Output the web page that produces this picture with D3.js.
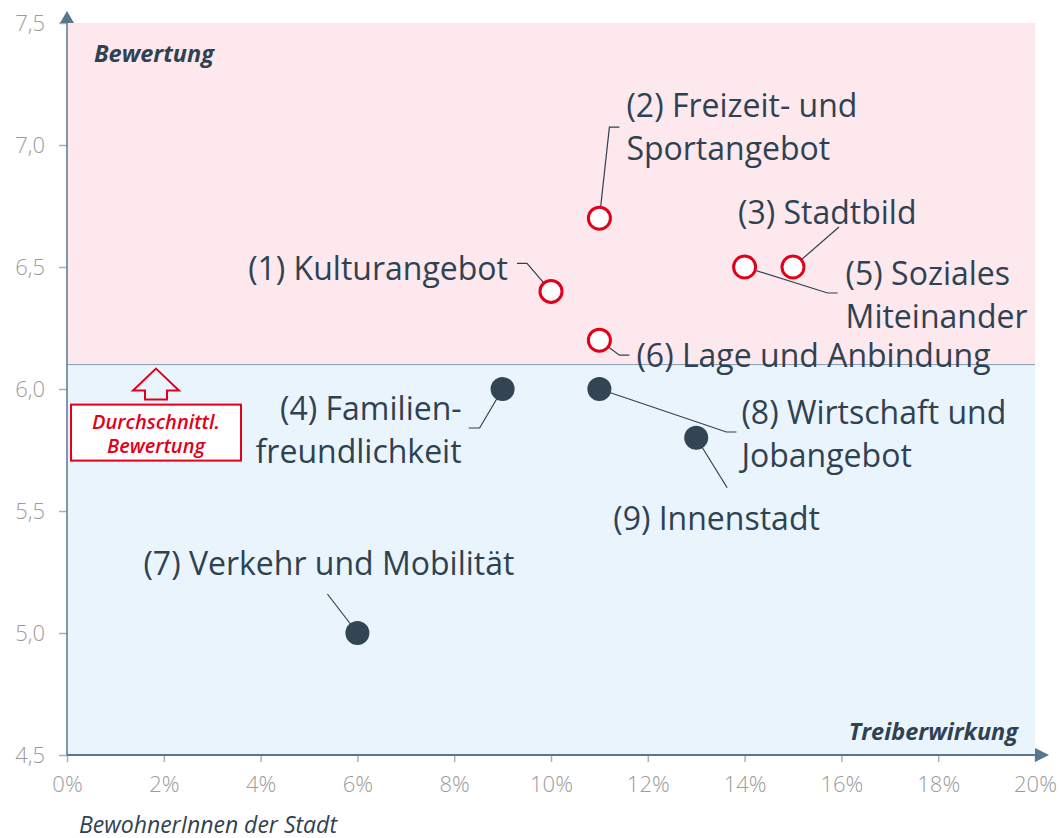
<!DOCTYPE html>
<html>
<head>
<meta charset="utf-8">
<script src="https://cdn.jsdelivr.net/npm/d3@7"></script>
<style>
  body { margin: 0; background: #fff; }
  svg { display: block; font-family: "Open Sans", sans-serif; }
</style>
</head>
<body>
<svg id="chart"></svg>
<script>
// data
var labels = [
  ["(1) Kulturangebot"],
  ["(2) Freizeit- und", "Sportangebot"],
  ["(3) Stadtbild"],
  ["(4) Familien-", "freundlichkeit"],
  ["(5) Soziales", "Miteinander"],
  ["(6) Lage und Anbindung"],
  ["(7) Verkehr und Mobilität"],
  ["(8) Wirtschaft und", "Jobangebot"],
  ["(9) Innenstadt"]
];
var share  = [0.10, 0.11, 0.15, 0.09, 0.14, 0.11, 0.06, 0.11, 0.13];
var rating = [6.4, 6.7, 6.5, 6.0, 6.5, 6.2, 5.0, 6.0, 5.8];
var avgRating = 6.1;
var xTicks = [0, 0.02, 0.04, 0.06, 0.08, 0.10, 0.12, 0.14, 0.16, 0.18, 0.20];
var yTicks = [4.5, 5.0, 5.5, 6.0, 6.5, 7.0, 7.5];

// label placement (pixel offsets from the point)
var labelPos = [
  {dx: -43, dy: -11, anchor: "end",   lead: [[0,0],[-24,-28],[-34,-28]]},
  {dx: 27,  dy: -101, anchor: "start", lead: [[0,0],[10,-91],[20,-91]]},
  {dx: -55, dy: -43, anchor: "start", lead: [[0,0],[46,-40]]},
  {dx: -41, dy: 31,  anchor: "end",   lead: [[0,0],[-23,39],[-34,39]]},
  {dx: 101, dy: 18,  anchor: "start", lead: [[0,0],[83,26],[93,26]]},
  {dx: 37,  dy: 27,  anchor: "start", lead: [[0,0],[20,15],[30,15]]},
  {dx: -214, dy: -58, anchor: "start", lead: [[0,0],[-30,-39]]},
  {dx: 142, dy: 35,  anchor: "start", lead: [[0,0],[127,43],[137,43]]},
  {dx: -83, dy: 92,  anchor: "start", lead: [[0,0],[31,50]]}
];

var width = 1061, height = 838;
var mLeft = 67, mRight = 1035, mTop = 23, mBottom = 755;
var ink = "#2f4252", axisCol = "#58778f", red = "#e2001a";

var svg = d3.select("#chart").attr("width", width).attr("height", height);

var x = d3.scaleLinear().domain([0, 0.20]).range([mLeft, mRight]);
var y = d3.scaleLinear().domain([4.5, 7.5]).range([mBottom, mTop]);

// background zones
svg.append("rect")
  .attr("x", x(0)).attr("y", y(7.5))
  .attr("width", x(0.20) - x(0)).attr("height", y(avgRating) - y(7.5))
  .attr("fill", "#fde8ee");
svg.append("rect")
  .attr("x", x(0)).attr("y", y(avgRating))
  .attr("width", x(0.20) - x(0)).attr("height", y(4.5) - y(avgRating))
  .attr("fill", "#eaf4fd");
svg.append("line")
  .attr("x1", x(0)).attr("x2", x(0.20))
  .attr("y1", y(avgRating)).attr("y2", y(avgRating))
  .attr("stroke", "#7f9bb4").attr("stroke-width", 1);

// axes
var yAxis = d3.axisLeft(y).tickValues(yTicks).tickSize(8).tickPadding(14)
  .tickFormat(function(d) { return d3.format(".1f")(d).replace(".", ","); });
var gy = svg.append("g").attr("transform", "translate(" + mLeft + ",0)").call(yAxis);
gy.select(".domain").remove();

var xAxis = d3.axisBottom(x).tickValues(xTicks).tickSize(7).tickPadding(14)
  .tickFormat(d3.format(".0%"));
var gx = svg.append("g").attr("transform", "translate(0," + mBottom + ")").call(xAxis);
gx.select(".domain").remove();

[gx, gy].forEach(function(g) {
  g.selectAll(".tick line").attr("stroke", "#9fb3c6").attr("stroke-width", 1.5);
  g.selectAll(".tick text")
    .attr("fill", "#9b9b9b")
    .attr("font-size", "22px")
    .attr("font-weight", 300)
    .attr("font-family", "'Open Sans', sans-serif");
});

// axis lines with arrows
svg.append("line")
  .attr("x1", mLeft).attr("x2", mLeft).attr("y1", mBottom).attr("y2", mTop - 2)
  .attr("stroke", axisCol).attr("stroke-width", 1.5);
svg.append("path")
  .attr("d", "M" + (mLeft - 7) + "," + mTop + "L" + mLeft + "," + (mTop - 12) + "L" + (mLeft + 7) + "," + mTop + "Z")
  .attr("fill", axisCol);
svg.append("line")
  .attr("x1", mLeft).attr("x2", mRight + 2).attr("y1", mBottom).attr("y2", mBottom)
  .attr("stroke", axisCol).attr("stroke-width", 2);
svg.append("path")
  .attr("d", "M" + mRight + "," + (mBottom - 7) + "L" + (mRight + 14) + "," + mBottom + "L" + mRight + "," + (mBottom + 7) + "Z")
  .attr("fill", axisCol);

// axis titles
svg.append("text")
  .attr("x", 94).attr("y", 62)
  .attr("font-size", "23.5px").attr("font-weight", 700).attr("font-style", "italic")
  .attr("fill", ink).text("Bewertung");
svg.append("text")
  .attr("x", 1018).attr("y", 740).attr("text-anchor", "end")
  .attr("font-size", "23.5px").attr("font-weight", 700).attr("font-style", "italic")
  .attr("fill", ink).text("Treiberwirkung");
svg.append("text")
  .attr("x", 79).attr("y", 833)
  .attr("font-size", "23px").attr("font-style", "italic")
  .attr("fill", ink).text("BewohnerInnen der Stadt");

// average marker
var ax = 156, ay = y(avgRating) + 4;
svg.append("path")
  .attr("d", "M" + ax + "," + ay + "L" + (ax + 23) + "," + (ay + 22) + "L" + (ax + 11) + "," + (ay + 22) +
             "L" + (ax + 11) + "," + (ay + 31) + "L" + (ax - 11) + "," + (ay + 31) +
             "L" + (ax - 11) + "," + (ay + 22) + "L" + (ax - 23) + "," + (ay + 22) + "Z")
  .attr("fill", "none").attr("stroke", red).attr("stroke-width", 2);
svg.append("rect")
  .attr("x", 71).attr("y", ay + 36).attr("width", 170).attr("height", 56)
  .attr("fill", "#fff").attr("stroke", red).attr("stroke-width", 2);
svg.append("text")
  .attr("x", ax).attr("y", ay + 60).attr("text-anchor", "middle")
  .attr("font-size", "20px").attr("font-weight", 600).attr("font-style", "italic")
  .attr("fill", red).text("Durchschnittl.");
svg.append("text")
  .attr("x", ax).attr("y", ay + 84).attr("text-anchor", "middle")
  .attr("font-size", "20px").attr("font-weight", 600).attr("font-style", "italic")
  .attr("fill", red).text("Bewertung");

// points + labels
var pts = share.map(function(s, i) {
  return {x: x(s), y: y(rating[i]), above: rating[i] > avgRating, lines: labels[i], pos: labelPos[i]};
});

var line = d3.line();
svg.append("g").selectAll("path")
  .data(pts).enter().append("path")
  .attr("d", function(d) {
    return line(d.pos.lead.map(function(p) { return [d.x + p[0], d.y + p[1]]; }));
  })
  .attr("fill", "none").attr("stroke", ink).attr("stroke-width", 1.2);

svg.append("g").selectAll("circle")
  .data(pts).enter().append("circle")
  .attr("cx", function(d) { return d.x; })
  .attr("cy", function(d) { return d.y; })
  .attr("r", function(d) { return d.above ? 11 : 12; })
  .attr("fill", function(d) { return d.above ? "#fff" : "#334454"; })
  .attr("stroke", function(d) { return d.above ? red : "none"; })
  .attr("stroke-width", 3);

var lbl = svg.append("g").selectAll("text")
  .data(pts).enter().append("text")
  .attr("font-size", "32px")
  .attr("fill", ink)
  .attr("text-anchor", function(d) { return d.pos.anchor; });
lbl.selectAll("tspan")
  .data(function(d) { return d.lines.map(function(t) { return {t: t, d: d}; }); })
  .enter().append("tspan")
  .attr("x", function(e) { return e.d.x + e.d.pos.dx; })
  .attr("y", function(e, i) { return e.d.y + e.d.pos.dy + i * 43; })
  .text(function(e) { return e.t; });
</script>
</body>
</html>
